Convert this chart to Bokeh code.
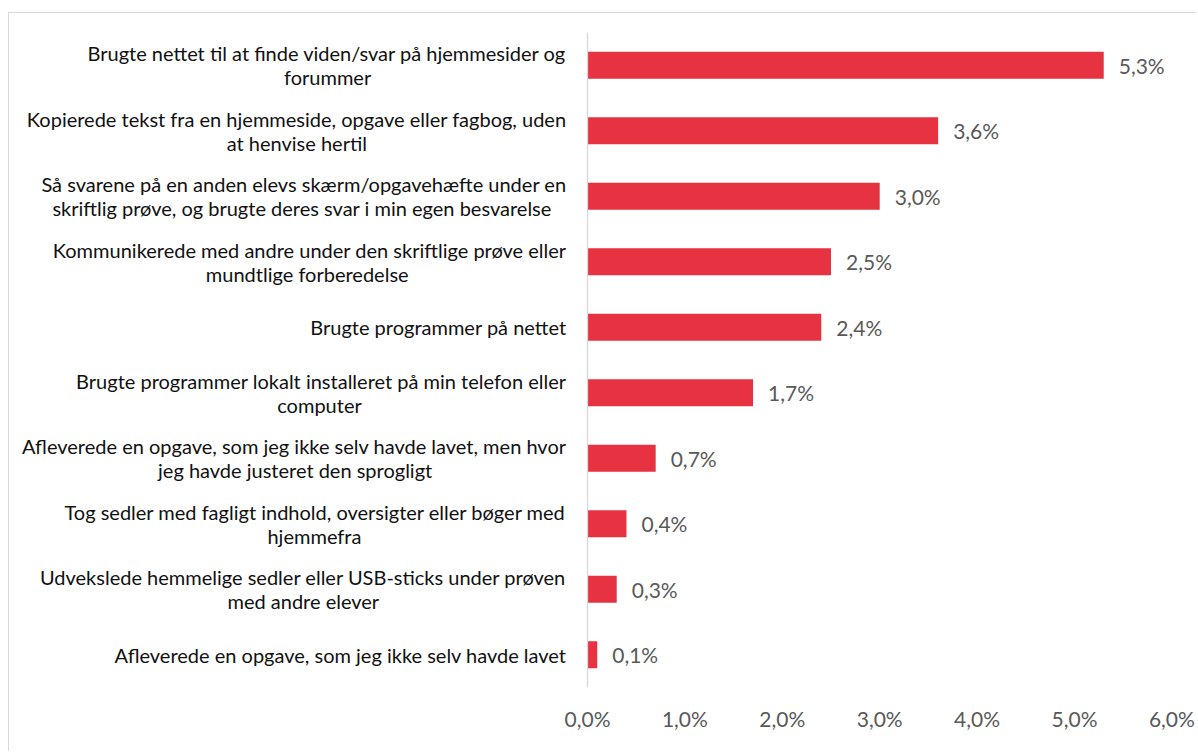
from bokeh.plotting import figure
from bokeh.models import ColumnDataSource, Range1d, FixedTicker, Span
from bokeh.core.properties import value
from bokeh.embed import file_html
from bokeh.resources import INLINE

# ---------------- data ----------------
categories = [
    ["Brugte nettet til at finde viden/svar på hjemmesider og", "forummer"],
    ["Kopierede tekst fra en hjemmeside, opgave eller fagbog, uden", "at henvise hertil"],
    ["Så svarene på en anden elevs skærm/opgavehæfte under en",
     "skriftlig prøve, og brugte deres svar i min egen besvarelse"],
    ["Kommunikerede med andre under den skriftlige prøve eller", "mundtlige forberedelse"],
    ["Brugte programmer på nettet"],
    ["Brugte programmer lokalt installeret på min telefon eller", "computer"],
    ["Afleverede en opgave, som jeg ikke selv havde lavet, men hvor", "jeg havde justeret den sprogligt"],
    ["Tog sedler med fagligt indhold, oversigter eller bøger med", "hjemmefra"],
    ["Udvekslede hemmelige sedler eller USB-sticks under prøven", "med andre elever"],
    ["Afleverede en opgave, som jeg ikke selv havde lavet"],
]
values = [5.3, 3.6, 3.0, 2.5, 2.4, 1.7, 0.7, 0.4, 0.3, 0.1]
tick_values = [0, 1, 2, 3, 4, 5, 6]
tick_labels = ["0,0%", "1,0%", "2,0%", "3,0%", "4,0%", "5,0%", "6,0%"]

# ---------------- layout / style ----------------
FONT = "Lato"
LABEL_PX = 20
TICK_PX = 21
BAR_COLOR = "#E63241"
GRAY = "#595959"
FIG_W, FIG_H = 1188, 739
FRAME_TOP = 19
FRAME_BOTTOM_PAD = FIG_H - 674
ZERO_PX = 578          # x-pixel of 0 % inside the figure
PX_PER_UNIT = 97.4
LABEL_GAP = 21
LINE_H = 24

# approximate Lato advance widths (fraction of em), used only to centre wrapped label lines
W = {" ": 0.193, ",": 0.22, ".": 0.22, "/": 0.38, "-": 0.33,
     "a": 0.513, "b": 0.56, "c": 0.45, "d": 0.56, "e": 0.525, "f": 0.32, "g": 0.50,
     "h": 0.56, "i": 0.245, "j": 0.245, "k": 0.50, "l": 0.245, "m": 0.84, "n": 0.56,
     "o": 0.56, "p": 0.56, "q": 0.56, "r": 0.37, "s": 0.42, "t": 0.35, "u": 0.56,
     "v": 0.50, "w": 0.77, "x": 0.48, "y": 0.50, "z": 0.45, "å": 0.513, "ø": 0.56,
     "æ": 0.82}


def text_w(s):
    tot = 0.0
    for ch in s:
        if ch in W:
            tot += W[ch]
        elif ch.isupper():
            tot += 0.64
        else:
            tot += 0.53
    return tot * LABEL_PX * 1.02


n = len(categories)
ys = [i + 0.5 for i in range(n)]

x_start = (0 - ZERO_PX) / PX_PER_UNIT
x_end = (FIG_W - ZERO_PX) / PX_PER_UNIT

p = figure(width=FIG_W, height=FIG_H, x_range=Range1d(x_start, x_end), y_range=Range1d(n, 0),
           output_backend="svg", toolbar_location=None, y_axis_location=None,
           min_border_left=0, min_border_right=0, min_border_top=FRAME_TOP,
           min_border_bottom=FRAME_BOTTOM_PAD)
p.margin = (12, 0, 0, 8)
p.styles = {"border-top": "1px solid #D9D9D9", "border-left": "1px solid #D9D9D9"}
p.outline_line_color = None
p.grid.visible = False
p.background_fill_color = "white"
p.border_fill_color = "white"

# bars
src = ColumnDataSource(dict(y=ys, v=values,
                            lab=[("%.1f%%" % v).replace(".", ",") for v in values]))
p.hbar(y="y", left=0, right="v", height=0.41, source=src, fill_color=BAR_COLOR,
       line_color=None)

# vertical axis line at 0
p.add_layout(Span(location=0, dimension="height", line_color="#D9D9D9", line_width=1.3))

# value labels
p.text(x="v", y="y", text="lab", source=src, x_offset=15, text_baseline="middle",
       text_align="left", text_font=value(FONT), text_font_size="%dpx" % TICK_PX,
       text_color=GRAY)

# category labels (lines centred on each other, block right-aligned)
r_src = dict(x=[], y=[], t=[], yo=[])
c_src = dict(x=[], y=[], t=[], yo=[], xo=[])
for i, lines in enumerate(categories):
    widths = [text_w(s) for s in lines]
    wmax = max(widths)
    k = len(lines)
    for j, s in enumerate(lines):
        yo = (j - (k - 1) / 2) * LINE_H
        if widths[j] == wmax:
            r_src["x"].append(0); r_src["y"].append(ys[i]); r_src["t"].append(s); r_src["yo"].append(yo)
        else:
            c_src["x"].append(0); c_src["y"].append(ys[i]); c_src["t"].append(s); c_src["yo"].append(yo)
            c_src["xo"].append(-LABEL_GAP - wmax / 2)

p.text(x="x", y="y", text="t", y_offset="yo", source=ColumnDataSource(r_src), x_offset=-LABEL_GAP,
       text_align="right", text_baseline="middle", text_font=value(FONT),
       text_font_size="%dpx" % LABEL_PX, text_color="#111111")
p.text(x="x", y="y", text="t", y_offset="yo", x_offset="xo", source=ColumnDataSource(c_src),
       text_align="center", text_baseline="middle", text_font=value(FONT),
       text_font_size="%dpx" % LABEL_PX, text_color="#111111")

# x axis
ax = p.xaxis[0]
ax.ticker = FixedTicker(ticks=tick_values)
ax.major_label_overrides = {t: l for t, l in zip(tick_values, tick_labels)}
ax.axis_line_color = None
ax.major_tick_line_color = None
ax.minor_tick_line_color = None
ax.major_tick_out = 0
ax.major_label_standoff = 18
ax.major_label_text_font = FONT
ax.major_label_text_font_size = "%dpx" % TICK_PX
ax.major_label_text_color = GRAY

open("out.html", "w").write(file_html(p, INLINE))
